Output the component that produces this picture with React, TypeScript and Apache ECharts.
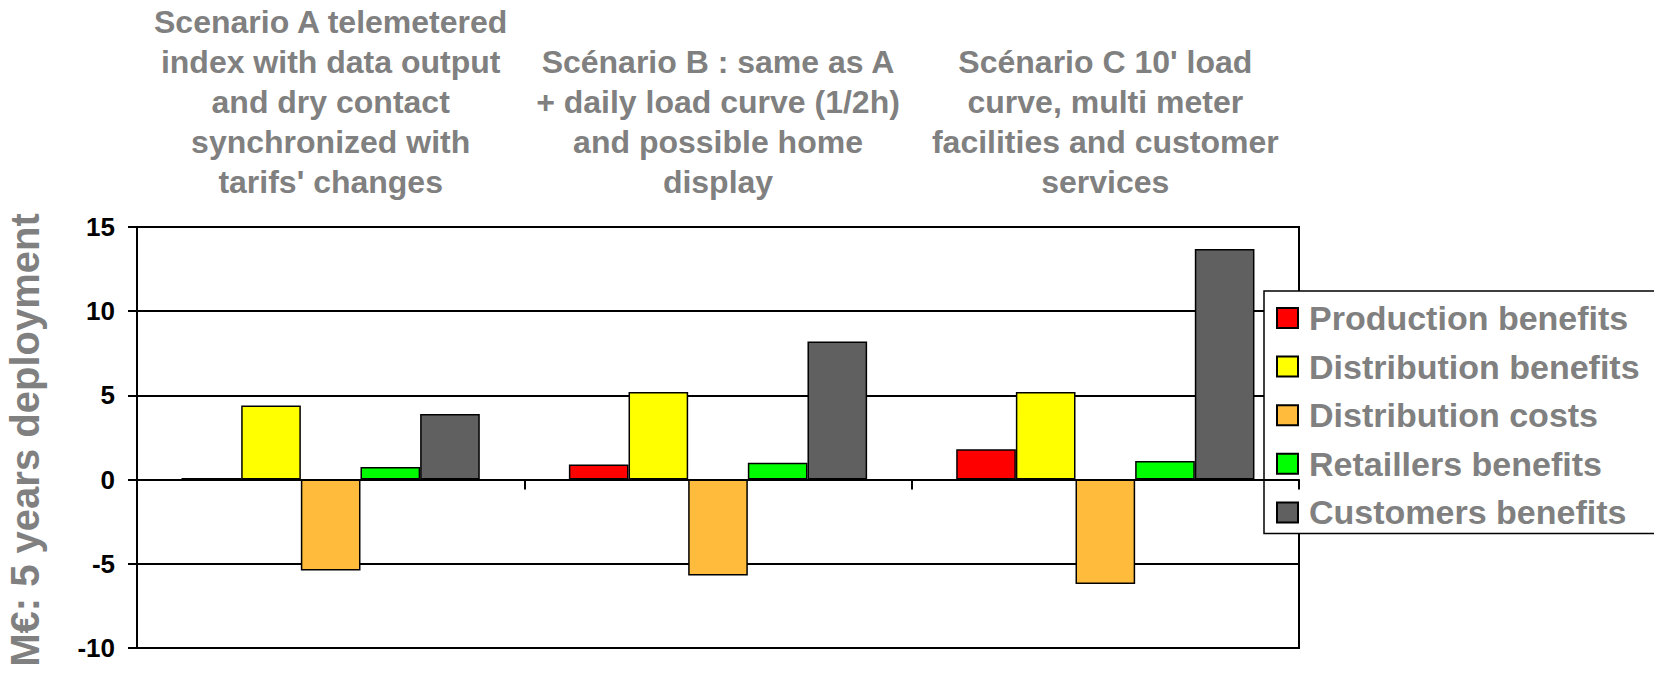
import React, { useEffect, useRef } from "react";
import * as echarts from "echarts";

const categories = ["Scenario A", "Scenario B", "Scenario C"];
const categoryTitles = [
  "Scenario A telemetered\nindex with data output\nand dry contact\nsynchronized with\ntarifs' changes",
  "Scénario B : same as A\n+ daily load curve (1/2h)\nand possible home\ndisplay",
  "Scénario C 10' load\ncurve, multi meter\nfacilities and customer\nservices",
];
const seriesNames = [
  "Production benefits",
  "Distribution benefits",
  "Distribution costs",
  "Retaillers benefits",
  "Customers benefits",
];
const productionBenefits = [0.1, 0.9, 1.8];
const distributionBenefits = [4.4, 5.2, 5.2];
const distributionCosts = [-5.4, -5.7, -6.2];
const retaillersBenefits = [0.75, 1.0, 1.1];
const customersBenefits = [3.9, 8.2, 13.7];
const seriesColors = ["#FF0000", "#FFFF00", "#FFBC3C", "#00FF00", "#606060"];
const yTicks = { min: -10, max: 15, interval: 5 };
const yAxisTitle = "M€: 5 years deployment";

const FONT = "'Liberation Sans', Arial, sans-serif";

export default function App() {
  const ref = useRef<HTMLDivElement>(null);
  useEffect(() => {
    if (!ref.current) return;
    const chart = echarts.init(ref.current, undefined, { renderer: "svg" });
    const gridLeft = 137;
    const gridRight = 355;
    const gridTop = 227;
    const gridBottom = 31;
    const plotW = 1654 - gridLeft - gridRight;
    const values = [
      productionBenefits,
      distributionBenefits,
      distributionCosts,
      retaillersBenefits,
      customersBenefits,
    ];
    const titleGraphics = categoryTitles.map((t, i) => ({
      type: "text",
      x: gridLeft + (plotW * (i + 0.5)) / categories.length,
      y: i === 0 ? 2 : 42,
      style: {
        text: t,
        fontFamily: FONT,
        fontWeight: "bold",
        fontSize: 32,
        lineHeight: 40,
        fill: "#808080",
        align: "center",
        verticalAlign: "top",
      },
    }));
    chart.setOption({
      animation: false,
      backgroundColor: "#ffffff",
      grid: {
        left: gridLeft,
        right: gridRight,
        top: gridTop,
        bottom: gridBottom,
        show: true,
        borderColor: "#000",
        borderWidth: 2,
      },
      legend: {
        orient: "vertical",
        left: 1264,
        top: 291,
        padding: [7, 24, 1, 12],
        itemWidth: 21,
        itemHeight: 20,
        itemGap: 8.6,
        icon: "rect",
        backgroundColor: "#ffffff",
        borderColor: "#000",
        borderWidth: 1.5,
        borderRadius: 0,
        data: seriesNames,
        textStyle: {
          fontFamily: FONT,
          fontWeight: "bold",
          fontSize: 34,
          lineHeight: 40,
          color: "#808080",
          padding: [0, 0, 0, 6],
        },
      },
      xAxis: {
        type: "category",
        data: categories,
        z: 5,
        axisLine: { onZero: true, lineStyle: { color: "#000", width: 2 } },
        axisTick: { show: true, length: 10, lineStyle: { color: "#000", width: 2 } },
        axisLabel: { show: false },
        splitLine: { show: false },
      },
      yAxis: {
        type: "value",
        min: yTicks.min,
        max: yTicks.max,
        interval: yTicks.interval,
        axisLine: { show: true, lineStyle: { color: "#000", width: 2 } },
        axisTick: { show: true, length: 9, lineStyle: { color: "#000", width: 2 } },
        axisLabel: {
          margin: 22,
          fontFamily: FONT,
          fontWeight: "bold",
          fontSize: 26,
          color: "#000",
        },
        splitLine: { show: true, lineStyle: { color: "#000", width: 2 } },
      },
      graphic: [
        ...titleGraphics,
        {
          type: "text",
          x: 25,
          y: 440,
          rotation: Math.PI / 2,
          style: {
            text: yAxisTitle,
            fontFamily: FONT,
            fontWeight: "bold",
            fontSize: 40,
            fill: "#808080",
            align: "center",
            verticalAlign: "middle",
          },
        },
      ],
      series: seriesNames.map((name, i) => ({
        name,
        type: "bar",
        data: values[i],
        barGap: "0%",
        barCategoryGap: "23%",
        itemStyle: { color: seriesColors[i], borderColor: "#000", borderWidth: 1.5 },
      })),
    });
    return () => chart.dispose();
  }, []);
  return (
    <div
      ref={ref}
      style={{ position: "fixed", left: 0, top: 0, width: 1654, height: 679 }}
    />
  );
}
